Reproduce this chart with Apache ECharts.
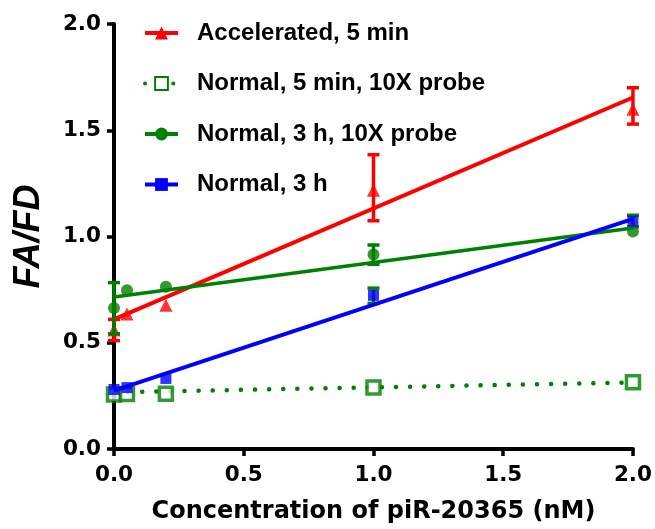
<!DOCTYPE html>
<html>
<head>
<meta charset="utf-8">
<script src="https://cdn.jsdelivr.net/npm/echarts@6/dist/echarts.min.js"></script>
<style>
html,body{margin:0;padding:0;background:#fff;}
#chart{width:655px;height:529px;}
</style>
</head>
<body>
<div id="chart"></div>
<script>
// ---- data ----
var xValues = [0, 0.05, 0.2, 1, 2];
var fitX = [0, 2];

var seriesNames = ['Accelerated, 5 min', 'Normal, 5 min, 10X probe', 'Normal, 3 h, 10X probe', 'Normal, 3 h'];

var accelY = [0.56, 0.635, 0.676, 1.218, 1.599];
var accelFit = [0.61, 1.654];
var accelErr = [[0, 0.51, 0.61], [1, 1.074, 1.385], [2, 1.529, 1.70]];

var normal5Y = [0.256, 0.259, 0.26, 0.29, 0.314];
var normal5Fit = [0.267, 0.313];

var normal3pY = [0.663, 0.747, 0.764, 0.915, 1.024];
var normal3pFit = [0.715, 1.04];
var normal3pErr = [[0, 0.542, 0.783], [1, 0.869, 0.96]];

var normal3Y = [0.28, 0.289, 0.332, 0.723, 1.072];
var normal3Fit = [0.275, 1.083];
var normal3Err = [[1, 0.685, 0.757], [2, 1.045, 1.10]];

var xTickLabels = ['0.0', '0.5', '1.0', '1.5', '2.0'];
var yTickLabels = ['0.0', '0.5', '1.0', '1.5', '2.0'];

var xAxisTitle = 'Concentration of piR-20365 (nM)';
var yAxisTitle = 'FA/FD';

// ---- helpers ----
function pairs(xs, ys) { return xs.map(function (x, i) { return [x, ys[i]]; }); }

function errSeries(name, data, color, z) {
  return {
    name: name, type: 'custom', z: z,
    encode: { x: 0, y: [1, 2] },
    data: data,
    renderItem: function (params, api) {
      var x = api.value(0);
      var lo = api.coord([x, api.value(1)]);
      var hi = api.coord([x, api.value(2)]);
      var w = 6;
      var st = { stroke: color, lineWidth: 3.5 };
      return {
        type: 'group',
        children: [
          { type: 'line', shape: { x1: lo[0], y1: lo[1], x2: hi[0], y2: hi[1] }, style: st },
          { type: 'line', shape: { x1: lo[0] - w, y1: lo[1], x2: lo[0] + w, y2: lo[1] }, style: st },
          { type: 'line', shape: { x1: hi[0] - w, y1: hi[1], x2: hi[0] + w, y2: hi[1] }, style: st }
        ]
      };
    }
  };
}

var RED = '#ff0000', GREEN = '#008000', BLUE = '#0000ff';

var chart = echarts.init(document.getElementById('chart'), null, { renderer: 'canvas' });

var option = {
  animation: false,
  backgroundColor: '#ffffff',
  grid: { left: 114, right: 21, top: 24, bottom: 76, containLabel: false },
  legend: {
    orient: 'vertical',
    left: 138, top: 15,
    itemWidth: 33, itemHeight: 16, itemGap: 24.5,
    data: seriesNames,
    selectedMode: false,
    lineStyle: { width: 4 },
    textStyle: {
      fontFamily: 'Liberation Sans, Arial, sans-serif', fontWeight: 'bold',
      fontSize: 24, color: '#000', lineHeight: 26, padding: [0, 0, 0, 14]
    }
  },
  xAxis: {
    type: 'value', min: 0, max: 2, interval: 0.5,
    name: xAxisTitle, nameLocation: 'middle', nameGap: 51,
    nameTextStyle: { fontFamily: 'DejaVu Sans', fontWeight: 'bold', fontSize: 24, color: '#000' },
    axisLine: { show: true, onZero: false, lineStyle: { color: '#000', width: 4 } },
    axisTick: { show: true, inside: false, length: 7, lineStyle: { color: '#000', width: 3.5 } },
    axisLabel: {
      margin: 15, color: '#000', fontFamily: 'DejaVu Sans', fontWeight: 'bold', fontSize: 21.5,
      formatter: function (v) { return xTickLabels[Math.round(v / 0.5)]; }
    },
    splitLine: { show: false }
  },
  yAxis: {
    type: 'value', min: 0, max: 2, interval: 0.5,
    name: yAxisTitle, nameLocation: 'middle', nameGap: 67,
    nameTextStyle: { fontFamily: 'Liberation Sans, Arial, sans-serif', fontWeight: 'bold', fontStyle: 'italic', fontSize: 36, color: '#000' },
    axisLine: { show: true, onZero: false, lineStyle: { color: '#000', width: 4 } },
    axisTick: { show: true, inside: false, length: 7, lineStyle: { color: '#000', width: 3.5 } },
    axisLabel: {
      margin: 13, color: '#000', fontFamily: 'DejaVu Sans', fontWeight: 'bold', fontSize: 21.5,
      formatter: function (v) { return yTickLabels[Math.round(v / 0.5)]; }
    },
    splitLine: { show: false }
  },
  series: [
    // Accelerated, 5 min
    { name: seriesNames[0], type: 'line', z: 2, data: pairs(fitX, accelFit),
      symbol: 'triangle', showSymbol: false, symbolSize: 12,
      lineStyle: { color: RED, width: 4 }, itemStyle: { color: RED } },
    errSeries(seriesNames[0], accelErr, RED, 2),
    { name: seriesNames[0], type: 'scatter', z: 3, data: pairs(xValues, accelY),
      symbol: 'triangle', symbolSize: 13, itemStyle: { color: RED } },

    // Normal, 5 min, 10X probe
    { name: seriesNames[1], type: 'line', z: 2, data: pairs(fitX, normal5Fit),
      symbol: 'rect', showSymbol: false, symbolSize: 12,
      lineStyle: { color: GREEN, width: 4.5, type: [0.1, 14], cap: 'round' },
      itemStyle: { color: '#ffffff', borderColor: GREEN, borderWidth: 3 } },
    { name: seriesNames[1], type: 'scatter', z: 3, data: pairs(xValues, normal5Y),
      symbol: 'rect', symbolSize: 13,
      itemStyle: { color: '#ffffff', borderColor: GREEN, borderWidth: 3.5 } },

    // Normal, 3 h, 10X probe
    { name: seriesNames[2], type: 'line', z: 4, data: pairs(fitX, normal3pFit),
      symbol: 'circle', showSymbol: false, symbolSize: 12,
      lineStyle: { color: GREEN, width: 3.5 }, itemStyle: { color: GREEN } },
    errSeries(seriesNames[2], normal3pErr, GREEN, 4),
    { name: seriesNames[2], type: 'scatter', z: 5, data: pairs(xValues, normal3pY),
      symbol: 'circle', symbolSize: 12, itemStyle: { color: GREEN } },

    // Normal, 3 h
    { name: seriesNames[3], type: 'line', z: 4, data: pairs(fitX, normal3Fit),
      symbol: 'rect', showSymbol: false, symbolSize: 12,
      lineStyle: { color: BLUE, width: 4 }, itemStyle: { color: BLUE } },
    errSeries(seriesNames[3], normal3Err, GREEN, 4),
    { name: seriesNames[3], type: 'scatter', z: 5, data: pairs(xValues, normal3Y),
      symbol: 'rect', symbolSize: 11, itemStyle: { color: BLUE } }
  ]
};

chart.setOption(option);
</script>
</body>
</html>
